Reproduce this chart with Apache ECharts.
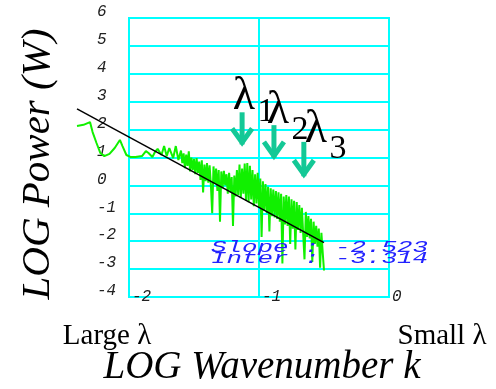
<!DOCTYPE html>
<html>
<head>
<meta charset="utf-8">
<script src="https://cdn.jsdelivr.net/npm/echarts@6/dist/echarts.min.js"></script>
<style>
html,body{margin:0;padding:0;background:#fff;}
#chart{width:496px;height:389px;}
</style>
</head>
<body>
<div id="chart"></div>
<script>
// ---- data ----
var xTicks = [-2, -1, 0];
var yTicks = [-4, -3, -2, -1, 0, 1, 2, 3, 4, 5, 6];

var specX = [-2.40,-2.35,-2.30,-2.28,-2.25,-2.22,-2.19,-2.15,-2.11,-2.07,-2.05,-2.02,-1.99,-1.95,-1.90,-1.87,-1.85,-1.82,-1.80,-1.78,-1.75,-1.73,-1.71,-1.69,-1.66,-1.64,-1.62,
-1.60,-1.59,-1.58,-1.57,-1.56,-1.55,-1.54,-1.53,-1.52,-1.51,-1.50,-1.49,-1.48,-1.47,-1.46,-1.45,-1.44,-1.43,-1.42,-1.41,
-1.40,-1.39,-1.38,-1.37,-1.36,-1.35,-1.34,-1.33,-1.32,-1.31,-1.30,-1.29,-1.28,-1.27,-1.26,-1.25,-1.24,-1.23,-1.22,-1.21,
-1.20,-1.19,-1.18,-1.17,-1.16,-1.15,-1.14,-1.13,-1.12,-1.11,-1.10,-1.09,-1.08,-1.07,-1.06,-1.05,-1.04,-1.03,-1.02,-1.01,
-1.00,-0.99,-0.98,-0.97,-0.96,-0.95,-0.94,-0.93,-0.92,-0.91,-0.90,-0.89,-0.88,-0.87,-0.86,-0.85,-0.84,-0.83,-0.82,-0.81,
-0.80,-0.79,-0.78,-0.77,-0.76,-0.75,-0.74,-0.73,-0.72,-0.71,-0.70,-0.69,-0.68,-0.67,-0.66,-0.65,-0.64,-0.63,-0.62,-0.61,
-0.60,-0.59,-0.58,-0.57,-0.56,-0.55,-0.54,-0.53,-0.52,-0.51,-0.50];
var specY = [2.13,2.17,2.27,1.91,1.52,1.16,1.05,1.13,1.34,1.63,1.41,1.09,1.02,1.02,1.05,1.23,1.16,1.02,1.20,1.31,1.09,1.41,1.05,1.34,0.98,1.41,0.91,
1.25,0.80,1.15,0.62,1.10,0.70,1.22,0.50,1.00,0.55,0.95,0.40,0.98,0.45,0.85,0.20,0.90,-0.25,0.75,0.15,
0.80,0.10,0.72,0.00,-1.00,0.68,0.05,0.60,-0.20,0.55,-1.30,0.50,-0.10,0.52,0.00,0.40,-0.30,0.45,-0.25,0.30,
-1.45,0.35,-0.40,0.55,-0.35,0.75,-0.45,0.60,-0.30,0.78,-0.55,0.80,-0.60,0.70,-0.50,0.55,-0.75,0.40,-0.65,0.45,
-0.80,0.25,-1.85,0.15,-0.90,0.05,-1.00,-0.05,-1.65,-0.10,-1.10,-0.15,-1.15,-0.20,-1.20,-0.25,-1.30,-0.30,-2.80,-0.40,
-1.40,-0.35,-1.45,-0.40,-2.10,-0.50,-1.55,-0.55,-2.30,-0.60,-1.60,-0.70,-1.70,-0.80,-1.75,-2.65,-0.95,-1.85,-1.10,-1.90,
-1.20,-2.75,-1.30,-2.10,-1.45,-2.20,-1.55,-2.95,-1.70,-2.40,-3.05];

var fitX = [-2.40, -0.50];
var fitY = [2.741, -2.053];
var slopeText = "Slope : -2.523";
var interText = "Inter : -3.314";

var arrowX = [-1.13, -0.885, -0.655];
var arrowTop = [2.62, 2.16, 1.56];
var arrowTip = [1.36, 0.88, 0.22];

var lambdaLabels = ["λ", "λ", "λ"];
var lambdaSubs = ["1", "2", "3"];

// ---- chart ----
var chart = echarts.init(document.getElementById('chart'), null, {renderer: 'canvas'});
var tickFont = {fontFamily: 'Liberation Mono', fontStyle: 'italic', fontSize: 16, color: '#222'};
var cyan = '#00ffff';

var specData = specX.map(function (x, i) { return [x, specY[i]]; });
var fitData = fitX.map(function (x, i) { return [x, fitY[i]]; });
var arrowData = arrowX.map(function (x, i) { return [x, arrowTop[i], arrowTip[i]]; });

function fmt(list) {
  return function (v) { return list.indexOf(v) >= 0 ? (v < 0 ? '-' + Math.abs(v) : String(v)) : ''; };
}

var option = {
  animation: false,
  backgroundColor: '#fff',
  grid: [
    {left: 129, top: 18, width: 260, height: 279,
      show: true, borderColor: cyan, borderWidth: 2,
      containLabel: false, outerBoundsMode: 'none'},
    // same scale, extended to the left so the spectrum can start before -2
    {left: 77, top: 18, width: 312, height: 279, show: false,
      containLabel: false, outerBoundsMode: 'none'}
  ],
  xAxis: [
    {
      type: 'value', gridIndex: 0, min: -2, max: 0, interval: 1,
      axisLine: {show: false}, axisTick: {show: false},
      splitLine: {show: true, lineStyle: {color: cyan, width: 2}},
      axisLabel: Object.assign({
        align: 'left', verticalAlign: 'middle', margin: 0, padding: [0, 0, 0, 3],
        formatter: fmt(xTicks)
      }, tickFont)
    },
    {type: 'value', gridIndex: 1, min: -2.4, max: 0, show: false}
  ],
  yAxis: [
    {
      type: 'value', gridIndex: 0, min: -4, max: 6, interval: 1,
      axisLine: {show: false}, axisTick: {show: false},
      splitLine: {show: true, lineStyle: {color: cyan, width: 2}},
      axisLabel: Object.assign({
        align: 'left', verticalAlign: 'bottom', margin: 32, lineHeight: 12,
        formatter: fmt(yTicks)
      }, tickFont)
    },
    {type: 'value', gridIndex: 1, min: -4, max: 6, show: false}
  ],
  series: [
    {
      type: 'line', xAxisIndex: 1, yAxisIndex: 1, data: specData, showSymbol: false, z: 2,
      lineStyle: {color: '#11f000', width: 2}
    },
    {
      type: 'line', xAxisIndex: 1, yAxisIndex: 1, data: fitData, showSymbol: false, z: 3,
      lineStyle: {color: '#000', width: 1.5}
    },
    {
      type: 'custom', xAxisIndex: 0, yAxisIndex: 0, data: arrowData, clip: false, z: 5,
      renderItem: function (params, api) {
        var top = api.coord([api.value(0), api.value(1)]);
        var tip = api.coord([api.value(0), api.value(2)]);
        var st = {stroke: '#14c896', lineWidth: 5, fill: null, lineJoin: 'miter', lineCap: 'butt'};
        return {
          type: 'group',
          children: [
            {type: 'line', shape: {x1: top[0], y1: top[1], x2: tip[0], y2: tip[1] - 3}, style: st},
            {type: 'polyline', shape: {points: [[tip[0] - 10, tip[1] - 19], [tip[0], tip[1] - 5], [tip[0] + 10, tip[1] - 19]]}, style: st}
          ]
        };
      }
    }
  ],
  graphic: [
    {type: 'text', x: 38, y: 164, rotation: Math.PI / 2, z: 10,
      style: {text: 'LOG Power (W)', font: 'italic 41px "Liberation Serif"', fill: '#000', align: 'center', verticalAlign: 'middle'}},
    {type: 'text', x: 262, y: 368, z: 10,
      style: {text: 'LOG Wavenumber k', font: 'italic 39px "Liberation Serif"', fill: '#000', align: 'center', verticalAlign: 'middle'}},
    {type: 'text', x: 107, y: 336, z: 10,
      style: {text: 'Large λ', font: '29px "Liberation Serif"', fill: '#000', align: 'center', verticalAlign: 'middle'}},
    {type: 'text', x: 442, y: 336, z: 10,
      style: {text: 'Small λ', font: '29px "Liberation Serif"', fill: '#000', align: 'center', verticalAlign: 'middle'}},
    {type: 'text', x: 211, y: 247, scaleX: 1.52, z: 10,
      style: {text: slopeText, font: 'italic 17px "Liberation Mono"', fill: '#2222ff', align: 'left', verticalAlign: 'middle'}},
    {type: 'text', x: 211, y: 258, scaleX: 1.52, z: 10,
      style: {text: interText, font: 'italic 17px "Liberation Mono"', fill: '#2222ff', align: 'left', verticalAlign: 'middle'}},
    {type: 'text', x: 244, y: 97, z: 10,
      style: {text: lambdaLabels[0], font: '46px "Liberation Serif"', fill: '#000', align: 'center', verticalAlign: 'middle'}},
    {type: 'text', x: 266, y: 112, z: 10,
      style: {text: lambdaSubs[0], font: '34px "Liberation Serif"', fill: '#000', align: 'center', verticalAlign: 'middle'}},
    {type: 'text', x: 278, y: 111, z: 10,
      style: {text: lambdaLabels[1], font: '46px "Liberation Serif"', fill: '#000', align: 'center', verticalAlign: 'middle'}},
    {type: 'text', x: 300, y: 130, z: 10,
      style: {text: lambdaSubs[1], font: '34px "Liberation Serif"', fill: '#000', align: 'center', verticalAlign: 'middle'}},
    {type: 'text', x: 316, y: 130, z: 10,
      style: {text: lambdaLabels[2], font: '46px "Liberation Serif"', fill: '#000', align: 'center', verticalAlign: 'middle'}},
    {type: 'text', x: 338, y: 149, z: 10,
      style: {text: lambdaSubs[2], font: '34px "Liberation Serif"', fill: '#000', align: 'center', verticalAlign: 'middle'}}
  ]
};
chart.setOption(option);
</script>
</body>
</html>
